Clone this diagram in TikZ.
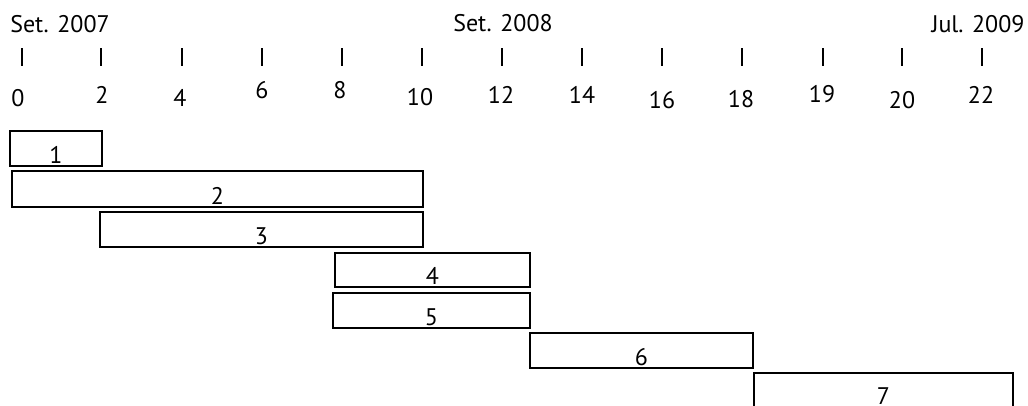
\documentclass[tikz,border=0pt]{standalone}
\usepackage{fontspec}
\setmainfont{PT Sans}
\begin{document}
\begin{tikzpicture}[x=1pt,y=-1pt,
  lbl/.style={font=\fontsize{24}{28}\selectfont, inner sep=0pt, anchor=base},
  tickmark/.style={line width=2.4pt},
  bar/.style={draw, line width=2pt, inner sep=0pt, anchor=north west}]
\useasboundingbox (0,0) rectangle (1028,405);

% dates above the time axis
\node[lbl] (d2007) at (60,32) {Set. 2007};
\node[lbl] (d2008) at (503,31) {Set. 2008};
\node[lbl] (d2009) at (978,32) {Jul. 2009};

% month ticks and their numbers
\foreach \tx/\m/\lx/\ly in {22/0/18/106, 101/2/102/103, 182/4/180/106,
    262/6/262/98, 342/8/340/98, 422/10/420/105, 502/12/501/103,
    582/14/582/103, 662/16/662/108, 742/18/741/107, 823/19/822/102,
    902/20/902/108, 982/22/981/103} {
  \coordinate (ta\m) at (\tx,48);
  \coordinate (tb\m) at (\tx,66);
  \draw[tickmark] (ta\m) -- (tb\m);
  \node[lbl] (m\m) at (\lx,\ly) {\m};
}

% task bars
\foreach \n/\xa/\xb/\ya/\yb in {1/9/101/130/165, 2/11/422/170/206,
    3/99/422/211/246, 4/334/529/252/286, 5/332/529/292/327,
    6/529/752/332/367, 7/753/1012/372/406} {
  \pgfmathsetmacro{\bw}{\xb-\xa}
  \pgfmathsetmacro{\bh}{\yb-\ya}
  \node[bar, minimum width=\bw pt, minimum height=\bh pt] (b\n) at (\xa,\ya) {};
  \node[lbl] (l\n) at ([yshift=3.5pt]b\n.south) {\n};
}
\end{tikzpicture}
\end{document}
